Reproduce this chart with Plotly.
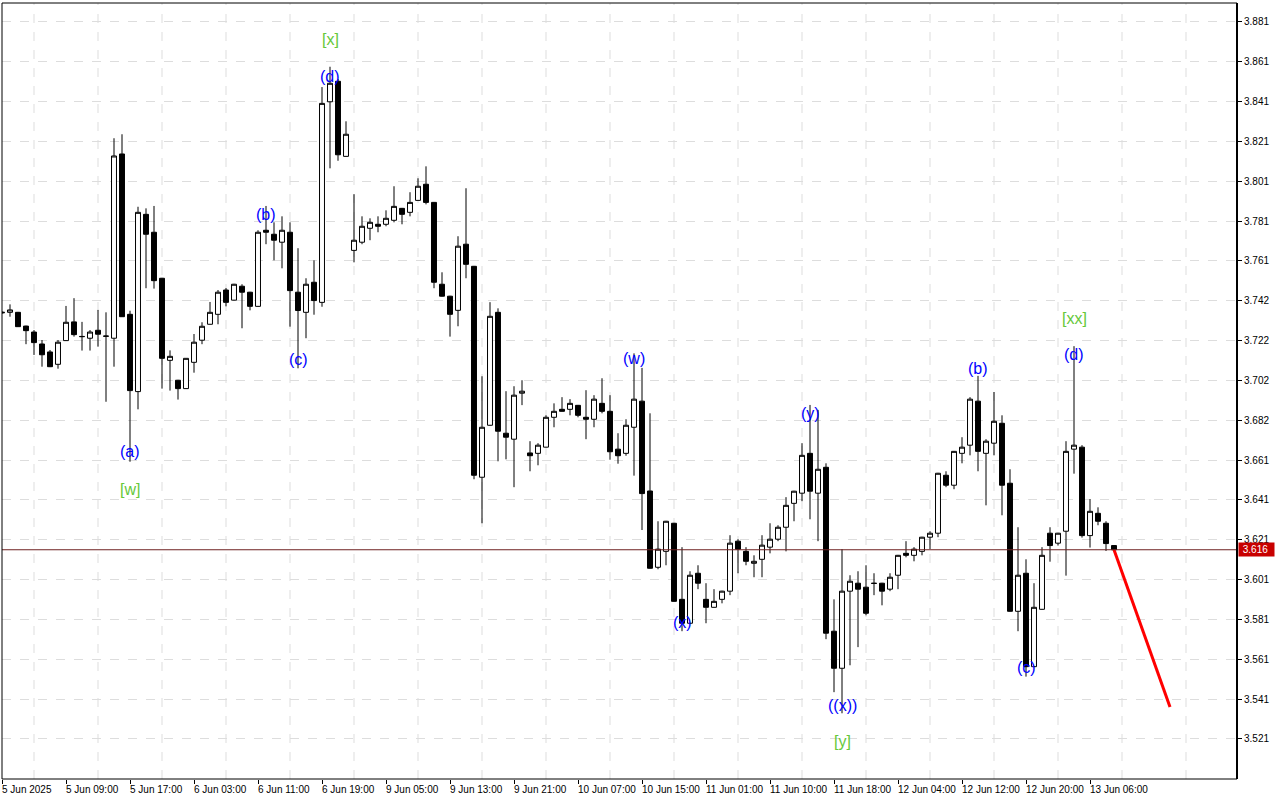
import plotly.graph_objects as go

# ---------------- data (H1 bars, indexed by bar number) ----------------
bar_index = list(range(140))

open_ = [3.7349, 3.7352, 3.7352, 3.7283, 3.7253, 3.7193, 3.7153, 3.7091, 3.7210, 3.7304,
         3.7231, 3.7222, 3.7262, 3.7233, 3.7222, 3.8147, 3.7342, 3.6954, 3.7844, 3.7754,
         3.7523, 3.7111, 3.7011, 3.6969, 3.7101, 3.7212, 3.7292, 3.7342, 3.7464, 3.7413,
         3.7483, 3.7453, 3.7382, 3.7764, 3.7744, 3.7704, 3.7754, 3.7453, 3.7352, 3.7503,
         3.7402, 3.8409, 3.8512, 3.8135, 3.7663, 3.7704, 3.7774, 3.7794, 3.7794, 3.7814,
         3.7874, 3.7854, 3.7914, 3.7995, 3.7904, 3.7493, 3.7433, 3.7362, 3.7694, 3.7583,
         3.6524, 3.6785, 3.7352, 3.6745, 3.6715, 3.6946, 3.6646, 3.6644, 3.6675, 3.6825,
         3.6865, 3.6865, 3.6885, 3.6825, 3.6815, 3.6895, 3.6855, 3.6665, 3.6644, 3.6775,
         3.6906, 3.6455, 3.6072, 3.6152, 3.6293, 3.5911, 3.5791, 3.6042, 3.5911, 3.5871,
         3.5911, 3.5952, 3.6203, 3.6152, 3.6092, 3.6112, 3.6173, 3.6213, 3.6273, 3.6393,
         3.6444, 3.6644, 3.6444, 3.6574, 3.5751, 3.5565, 3.5952, 3.5992, 3.5972, 3.5992,
         3.5992, 3.5962, 3.6032, 3.6142, 3.6132, 3.6152, 3.6223, 3.6243, 3.6534, 3.6484,
         3.6644, 3.6685, 3.6906, 3.6644, 3.6695, 3.6795, 3.6494, 3.5851, 3.6042, 3.5573,
         3.5861, 3.6243, 3.6193, 3.6253, 3.6665, 3.6675, 3.6231, 3.6343, 3.6293, 3.6181]

high = [3.7357, 3.7392, 3.7354, 3.7285, 3.7263, 3.7213, 3.7163, 3.7213, 3.7384, 3.7423,
        3.7304, 3.7263, 3.7364, 3.7352, 3.8226, 3.8246, 3.7360, 3.7882, 3.7874, 3.7886,
        3.7525, 3.7161, 3.7013, 3.7122, 3.7243, 3.7302, 3.7404, 3.7464, 3.7474, 3.7495,
        3.7493, 3.7455, 3.7764, 3.7886, 3.7804, 3.7834, 3.7804, 3.7674, 3.7523, 3.7613,
        3.8483, 3.8585, 3.8523, 3.8311, 3.7945, 3.7834, 3.7824, 3.7834, 3.7864, 3.7985,
        3.7876, 3.7955, 3.8025, 3.8085, 3.7906, 3.7553, 3.7435, 3.7734, 3.7975, 3.7585,
        3.7031, 3.7403, 3.7372, 3.6956, 3.6981, 3.7011, 3.6705, 3.6695, 3.6835, 3.6895,
        3.6926, 3.6916, 3.6887, 3.6961, 3.6936, 3.7021, 3.6936, 3.6745, 3.6815, 3.7146,
        3.7073, 3.6845, 3.6303, 3.6305, 3.6295, 3.6173, 3.6052, 3.6082, 3.5992, 3.5962,
        3.5954, 3.6233, 3.6213, 3.6173, 3.6132, 3.6233, 3.6293, 3.6283, 3.6424, 3.6456,
        3.6695, 3.6887, 3.6862, 3.6594, 3.5911, 3.6163, 3.6032, 3.6052, 3.6082, 3.6042,
        3.5994, 3.6042, 3.6134, 3.6203, 3.6173, 3.6225, 3.6253, 3.6546, 3.6554, 3.6656,
        3.6725, 3.6926, 3.7033, 3.6715, 3.6952, 3.6835, 3.6564, 3.6273, 3.6112, 3.5992,
        3.6173, 3.6273, 3.6245, 3.6705, 3.7182, 3.6685, 3.6414, 3.6373, 3.6303, 3.6183]

low = [3.7345, 3.7330, 3.7279, 3.7192, 3.7138, 3.7079, 3.7077, 3.7069, 3.7208, 3.7230,
       3.7160, 3.7160, 3.7180, 3.6903, 3.7079, 3.7329, 3.6602, 3.6865, 3.7473, 3.7471,
       3.6969, 3.6959, 3.6914, 3.6968, 3.7049, 3.7192, 3.7291, 3.7292, 3.7382, 3.7411,
       3.7272, 3.7362, 3.7380, 3.7694, 3.7613, 3.7573, 3.7280, 3.7071, 3.7222, 3.7340,
       3.7380, 3.8075, 3.8113, 3.8134, 3.7603, 3.7694, 3.7714, 3.7754, 3.7784, 3.7804,
       3.7794, 3.7834, 3.7913, 3.7894, 3.7473, 3.7431, 3.7230, 3.7282, 3.7523, 3.6514,
       3.6293, 3.6783, 3.6604, 3.6614, 3.6474, 3.6886, 3.6554, 3.6584, 3.6674, 3.6775,
       3.6854, 3.6835, 3.6825, 3.6715, 3.6775, 3.6845, 3.6612, 3.6592, 3.6632, 3.6532,
       3.6259, 3.6065, 3.6062, 3.6082, 3.5899, 3.5751, 3.5789, 3.5962, 3.5791, 3.5869,
       3.5891, 3.5932, 3.6042, 3.6082, 3.6022, 3.6022, 3.6142, 3.6203, 3.6152, 3.6303,
       3.6404, 3.6313, 3.6203, 3.5711, 3.5445, 3.5339, 3.5580, 3.5671, 3.5831, 3.5932,
       3.5881, 3.5952, 3.5962, 3.6122, 3.6102, 3.6132, 3.6163, 3.6223, 3.6474, 3.6464,
       3.6594, 3.6634, 3.6554, 3.6383, 3.6634, 3.6333, 3.5849, 3.5751, 3.5523, 3.5571,
       3.5859, 3.6100, 3.6181, 3.6030, 3.6542, 3.6221, 3.6171, 3.6283, 3.6154, 3.6158]

close = [3.7352, 3.7364, 3.7280, 3.7260, 3.7200, 3.7139, 3.7079, 3.7202, 3.7302, 3.7240,
         3.7230, 3.7253, 3.7242, 3.7232, 3.8137, 3.7330, 3.6959, 3.7854, 3.7744, 3.7511,
         3.7121, 3.7131, 3.6969, 3.7121, 3.7202, 3.7282, 3.7352, 3.7453, 3.7402, 3.7493,
         3.7453, 3.7382, 3.7754, 3.7754, 3.7714, 3.7764, 3.7461, 3.7361, 3.7493, 3.7411,
         3.8401, 3.8502, 3.8143, 3.8246, 3.7714, 3.7784, 3.7804, 3.7784, 3.7824, 3.7884,
         3.7844, 3.7904, 3.7985, 3.7904, 3.7503, 3.7433, 3.7342, 3.7684, 3.7593, 3.6534,
         3.6775, 3.7332, 3.6755, 3.6725, 3.6936, 3.6956, 3.6632, 3.6685, 3.6825, 3.6855,
         3.6855, 3.6895, 3.6835, 3.6815, 3.6916, 3.6855, 3.6652, 3.6632, 3.6785, 3.6916,
         3.6442, 3.6067, 3.6163, 3.6303, 3.5901, 3.5791, 3.6032, 3.5992, 3.5871, 3.5901,
         3.5952, 3.6193, 3.6163, 3.6102, 3.6102, 3.6183, 3.6213, 3.6273, 3.6383, 3.6454,
         3.6634, 3.6454, 3.6564, 3.5741, 3.5565, 3.5952, 3.6002, 3.5962, 3.5841, 3.5991,
         3.5952, 3.6022, 3.6132, 3.6132, 3.6163, 3.6223, 3.6243, 3.6544, 3.6484, 3.6654,
         3.6675, 3.6916, 3.6654, 3.6705, 3.6805, 3.6484, 3.5851, 3.6032, 3.5573, 3.5871,
         3.6132, 3.6181, 3.6243, 3.6654, 3.6685, 3.6231, 3.6353, 3.6303, 3.6191, 3.6160]

# time-axis labels (every 8 bars)
time_tick_bars = [0, 8, 16, 24, 32, 40, 48, 56, 64, 72, 80, 88, 96, 104, 112, 120, 128, 136]
time_tick_labels = ["5 Jun 2025", "5 Jun 09:00", "5 Jun 17:00", "6 Jun 03:00", "6 Jun 11:00",
                    "6 Jun 19:00", "9 Jun 05:00", "9 Jun 13:00", "9 Jun 21:00", "10 Jun 07:00",
                    "10 Jun 15:00", "11 Jun 01:00", "11 Jun 10:00", "11 Jun 18:00",
                    "12 Jun 04:00", "12 Jun 12:00", "12 Jun 20:00", "13 Jun 06:00"]

# price-axis labels
price_ticks = [3.881, 3.861, 3.841, 3.821, 3.801, 3.781, 3.761, 3.741, 3.721, 3.701,
               3.681, 3.661, 3.641, 3.621, 3.601, 3.581, 3.561, 3.541, 3.521]
price_tick_labels = ["3.881", "3.861", "3.841", "3.821", "3.801", "3.781", "3.761", "3.742",
                     "3.722", "3.702", "3.682", "3.661", "3.641", "3.621", "3.601", "3.581",
                     "3.561", "3.541", "3.521"]

last_price = 3.616

# forecast line
forecast_bars = [139, 146]
forecast_prices = [3.616, 3.537]

# Elliott wave labels
wave_text = ["(a)", "[w]", "(b)", "(c)", "[x]", "(d)", "(w)", "(x)", "(y)", "((x))", "[y]",
             "(b)", "(c)", "[xx]", "(d)"]
wave_bar = [16, 16, 33, 37, 41, 41, 79, 85, 101, 105, 105, 122, 128, 134, 134]
wave_price = [3.6651, 3.6465, 3.7841, 3.7113, 3.8724, 3.8538, 3.7118, 3.5793, 3.6842, 3.5376,
              3.5195, 3.7068, 3.5567, 3.7319, 3.7138]
wave_level = ["minor", "major", "minor", "minor", "major", "minor", "minor", "minor", "minor",
              "minor", "major", "minor", "minor", "major", "minor"]

# grid line bars (vertical dashed grid)
vgrid_bars = [4 + 8 * k for k in range(20)]

# ---------------- figure ----------------
BLUE = "#0000ff"
GREEN = "#66c83a"
FONT = "Liberation Sans"

fig = go.Figure()

fig.add_trace(go.Candlestick(
    x=bar_index, open=open_, high=high, low=low, close=close,
    increasing=dict(fillcolor="white", line=dict(color="black", width=1)),
    decreasing=dict(fillcolor="black", line=dict(color="black", width=1)),
    whiskerwidth=0, showlegend=False, hoverinfo="skip",
))

fig.add_trace(go.Scatter(
    x=forecast_bars, y=forecast_prices, mode="lines",
    line=dict(color="#ff0000", width=3), showlegend=False, hoverinfo="skip",
))

shapes = []
for b in vgrid_bars:
    shapes.append(dict(type="line", xref="x", yref="paper", x0=b, x1=b, y0=0, y1=1,
                       line=dict(color="#dddddd", width=1, dash="dash"), layer="below"))
# last price line
shapes.append(dict(type="line", xref="paper", yref="y", x0=0, x1=1, y0=last_price, y1=last_price,
                   line=dict(color="#6e2020", width=1), layer="above"))
# frame
shapes.append(dict(type="rect", xref="paper", yref="paper", x0=0, x1=1, y0=0, y1=1,
                   line=dict(color="black", width=1), layer="above"))
shapes.append(dict(type="line", xref="paper", yref="paper", x0=1, x1=1, y0=0, y1=1,
                   line=dict(color="black", width=2), layer="above"))

annotations = []
for t, b, p, lv in zip(wave_text, wave_bar, wave_price, wave_level):
    annotations.append(dict(x=b, y=p, xref="x", yref="y", text=t, showarrow=False,
                            xanchor="center", yanchor="middle",
                            font=dict(family=FONT, size=16,
                                      color=BLUE if lv == "minor" else GREEN)))
for b, lab in zip(time_tick_bars, time_tick_labels):
    annotations.append(dict(x=b, y=0, xref="x", yref="paper", text=lab, showarrow=False,
                            xanchor="left", yanchor="top", xshift=-2, yshift=-3,
                            font=dict(family=FONT, size=10, color="black")))
annotations.append(dict(x=1, y=last_price, xref="paper", yref="y", text="&#160;3.616&#160;&#160;",
                        showarrow=False, xanchor="left", yanchor="middle", xshift=1,
                        bgcolor="#c80000", borderpad=1,
                        font=dict(family=FONT, size=10, color="white")))

fig.update_layout(
    width=1280, height=800,
    margin=dict(l=2, r=43, t=3, b=21),
    paper_bgcolor="white", plot_bgcolor="white",
    boxgap=0.38, boxgroupgap=0,
    shapes=shapes, annotations=annotations,
    showlegend=False,
    xaxis=dict(range=[0, 154.375], rangeslider=dict(visible=False), showgrid=False,
               zeroline=False, tickvals=time_tick_bars, ticktext=[""] * len(time_tick_bars),
               ticks="outside", ticklen=4, tickcolor="black", showline=False),
    yaxis=dict(side="right", range=[3.5009, 3.8905], tickvals=price_ticks,
               ticktext=price_tick_labels, ticks="outside", ticklen=4, tickcolor="black",
               showgrid=True, gridcolor="#dddddd", griddash="dash", gridwidth=1,
               zeroline=False, showline=False,
               tickfont=dict(family=FONT, size=10, color="black")),
)

fig.write_html("out.html", config={"displayModeBar": False},
               post_script="document.body.style.margin='0';document.body.style.overflow='hidden';")
